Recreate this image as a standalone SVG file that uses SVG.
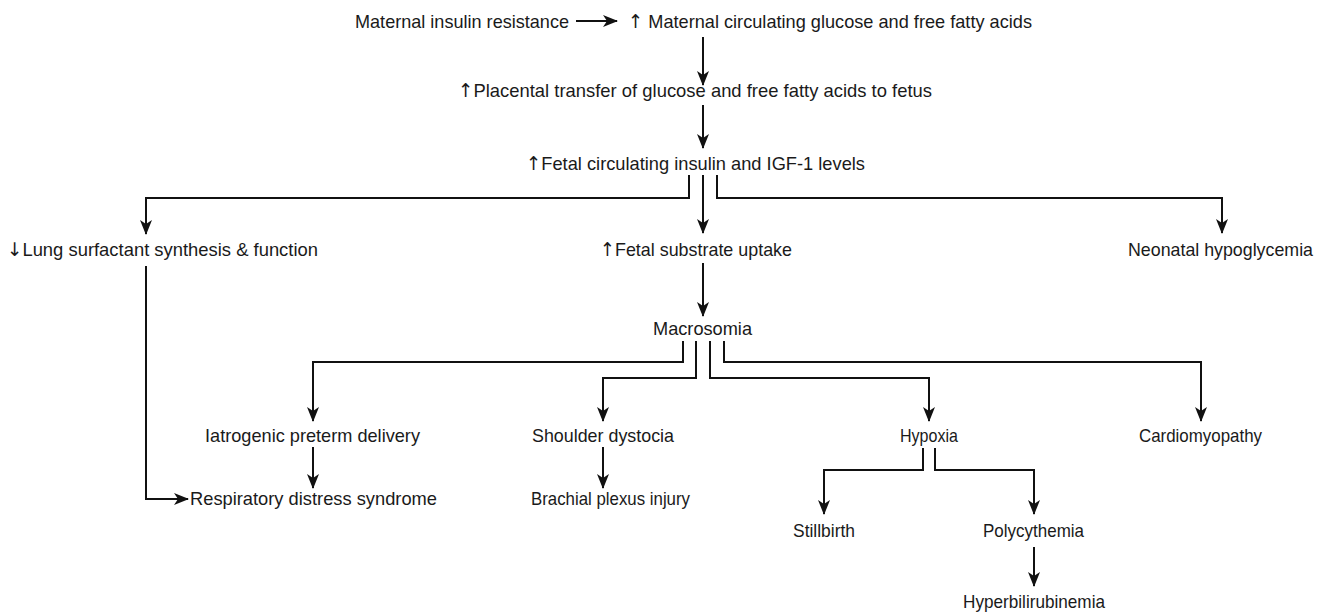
<svg xmlns="http://www.w3.org/2000/svg" width="1328" height="612" viewBox="0 0 1328 612">
<defs>
<style>
text{font-family:"Liberation Sans",Arial,"DejaVu Sans",sans-serif;font-size:19px;fill:#1a1a1a}
.a{font-family:"DejaVu Sans",sans-serif;fill:#1a1a1a}
.c{fill:none;stroke:#111;stroke-width:2}
</style>
<marker id="ah" viewBox="0 0 15 12" refX="14" refY="6" markerWidth="15" markerHeight="12" markerUnits="userSpaceOnUse" orient="auto">
<path d="M0,0 L15,6 L0,12 L4,6 z" fill="#111"/>
</marker>
</defs>
<rect width="1328" height="612" fill="#fff"/>
<g id="n-maternal-ir"><text x="355" y="28" textLength="214" lengthAdjust="spacingAndGlyphs">Maternal insulin resistance</text></g>
<g id="n-maternal-glucose"><text x="628" y="28" textLength="404" lengthAdjust="spacingAndGlyphs"><tspan class="a">↑</tspan> Maternal circulating glucose and free fatty acids</text></g>
<g id="n-placental"><text x="458" y="97" textLength="474" lengthAdjust="spacingAndGlyphs"><tspan class="a">↑</tspan>Placental transfer of glucose and free fatty acids to fetus</text></g>
<g id="n-fetal-insulin"><text x="526" y="170" textLength="339" lengthAdjust="spacingAndGlyphs"><tspan class="a">↑</tspan>Fetal circulating insulin and IGF-1 levels</text></g>
<g id="n-lung"><text x="7" y="256" textLength="311" lengthAdjust="spacingAndGlyphs"><tspan class="a">↓</tspan>Lung surfactant synthesis &amp; function</text></g>
<g id="n-substrate"><text x="600" y="256" textLength="192" lengthAdjust="spacingAndGlyphs"><tspan class="a">↑</tspan>Fetal substrate uptake</text></g>
<g id="n-hypoglycemia"><text x="1128" y="256" textLength="185" lengthAdjust="spacingAndGlyphs">Neonatal hypoglycemia</text></g>
<g id="n-macrosomia"><text x="653" y="335" textLength="99" lengthAdjust="spacingAndGlyphs">Macrosomia</text></g>
<g id="n-iatrogenic"><text x="205" y="442" textLength="215" lengthAdjust="spacingAndGlyphs">Iatrogenic preterm delivery</text></g>
<g id="n-shoulder"><text x="532" y="442" textLength="142" lengthAdjust="spacingAndGlyphs">Shoulder dystocia</text></g>
<g id="n-hypoxia"><text x="900" y="442" textLength="58" lengthAdjust="spacingAndGlyphs">Hypoxia</text></g>
<g id="n-cardiomyopathy"><text x="1139" y="442" textLength="123" lengthAdjust="spacingAndGlyphs">Cardiomyopathy</text></g>
<g id="n-rds"><text x="190" y="505" textLength="247" lengthAdjust="spacingAndGlyphs">Respiratory distress syndrome</text></g>
<g id="n-brachial"><text x="531" y="505" textLength="159" lengthAdjust="spacingAndGlyphs">Brachial plexus injury</text></g>
<g id="n-stillbirth"><text x="793" y="537" textLength="62" lengthAdjust="spacingAndGlyphs">Stillbirth</text></g>
<g id="n-polycythemia"><text x="983" y="537" textLength="101" lengthAdjust="spacingAndGlyphs">Polycythemia</text></g>
<g id="n-hyperbilirubinemia"><text x="963" y="608" textLength="142" lengthAdjust="spacingAndGlyphs">Hyperbilirubinemia</text></g>
<g id="connectors">
<path class="c" marker-end="url(#ah)" d="M576,21 H617"/>
<path class="c" marker-end="url(#ah)" d="M703,37 V85"/>
<path class="c" marker-end="url(#ah)" d="M703,105 V148"/>
<path class="c" marker-end="url(#ah)" d="M689,175 V198 H146 V234"/>
<path class="c" marker-end="url(#ah)" d="M703,175 V233"/>
<path class="c" marker-end="url(#ah)" d="M717,175 V198 H1222 V233"/>
<path class="c" marker-end="url(#ah)" d="M146,266 V499 H188"/>
<path class="c" marker-end="url(#ah)" d="M703,263 V316"/>
<path class="c" marker-end="url(#ah)" d="M683,341 V362 H313 V421"/>
<path class="c" marker-end="url(#ah)" d="M696,341 V378 H603 V421"/>
<path class="c" marker-end="url(#ah)" d="M710,341 V378 H929 V421"/>
<path class="c" marker-end="url(#ah)" d="M724,341 V362 H1201 V421"/>
<path class="c" marker-end="url(#ah)" d="M313,447 V488"/>
<path class="c" marker-end="url(#ah)" d="M603,447 V488"/>
<path class="c" marker-end="url(#ah)" d="M923,448 V470 H824 V514"/>
<path class="c" marker-end="url(#ah)" d="M935,448 V470 H1034 V514"/>
<path class="c" marker-end="url(#ah)" d="M1034,547 V586"/>
</g>
</svg>
